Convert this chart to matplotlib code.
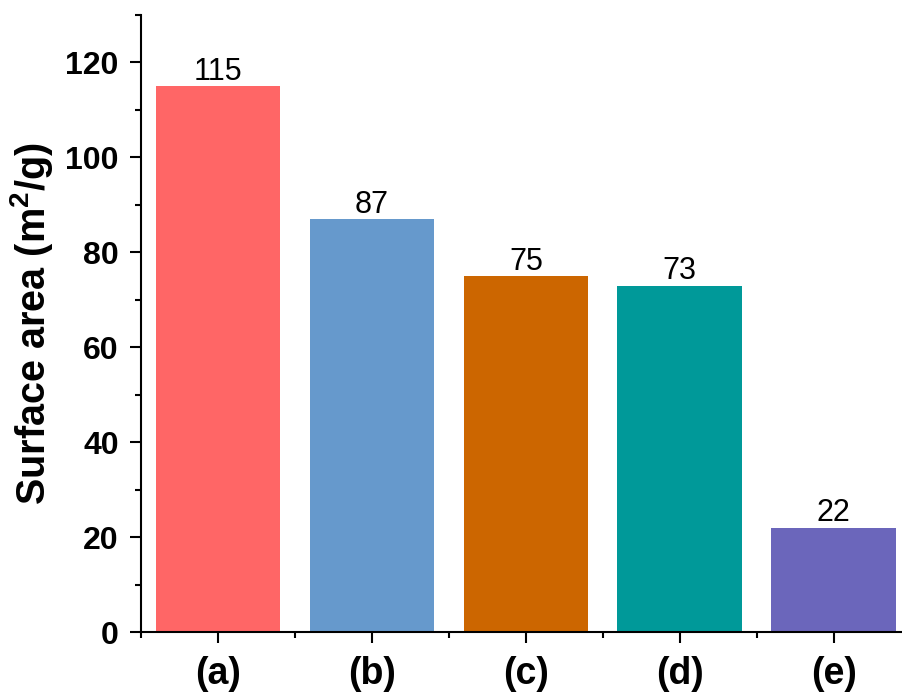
import matplotlib
matplotlib.use("Agg")
import matplotlib.pyplot as plt
from matplotlib.ticker import MultipleLocator, FixedLocator

plt.rcParams["font.family"] = ["Liberation Sans", "DejaVu Sans"]
plt.rcParams["mathtext.fontset"] = "custom"
plt.rcParams["mathtext.rm"] = "Liberation Sans"
plt.rcParams["mathtext.bf"] = "Liberation Sans:bold"

samples = ["(a)", "(b)", "(c)", "(d)", "(e)"]
surface_area = [115, 87, 75, 73, 22]
bar_colors = ["#FF6666", "#6699CC", "#CC6600", "#009999", "#6B66BB"]

W, H = 903, 697
fig = plt.figure(figsize=(W / 100, H / 100), dpi=100)
# axes box in pixels: left spine at 141, bottom at 632, top at 15, runs off the right edge
ax = fig.add_axes([141 / W, (H - 632) / H, (903 - 141) / W, (632 - 15) / H])

pos = list(range(1, len(samples) + 1))
ax.bar(pos, surface_area, width=0.81, color=bar_colors, zorder=2)

for x, v in zip(pos, surface_area):
    ax.annotate(str(v), (x, v), xytext=(0, 4.5), textcoords="offset points",
                ha="center", va="baseline", fontsize=22)

ax.set_xlim(0.5, 5.45)
ax.set_ylim(0, 130)

ax.xaxis.set_major_locator(FixedLocator(pos))
ax.xaxis.set_minor_locator(FixedLocator([p - 0.5 for p in pos]))
ax.set_xticklabels(samples, fontsize=27, fontweight="bold")
ax.yaxis.set_major_locator(MultipleLocator(20))
ax.yaxis.set_minor_locator(MultipleLocator(10))
for lab in ax.get_yticklabels():
    lab.set_fontsize(23)
    lab.set_fontweight("bold")

ax.tick_params(axis="both", which="major", direction="out", length=8, width=1.5)
ax.tick_params(axis="both", which="minor", direction="out", length=4.5, width=1.5)
ax.tick_params(axis="y", which="major", pad=8)
ax.tick_params(axis="x", which="major", pad=9)

ax.spines["top"].set_visible(False)
ax.spines["right"].set_visible(False)
ax.spines["left"].set_linewidth(1.5)
ax.spines["bottom"].set_linewidth(1.5)

ax.set_ylabel("Surface area (m$^\\mathbf{2}$/g)", fontsize=28.5, fontweight="bold", labelpad=7.5)

fig.savefig("out.png", dpi=100)
